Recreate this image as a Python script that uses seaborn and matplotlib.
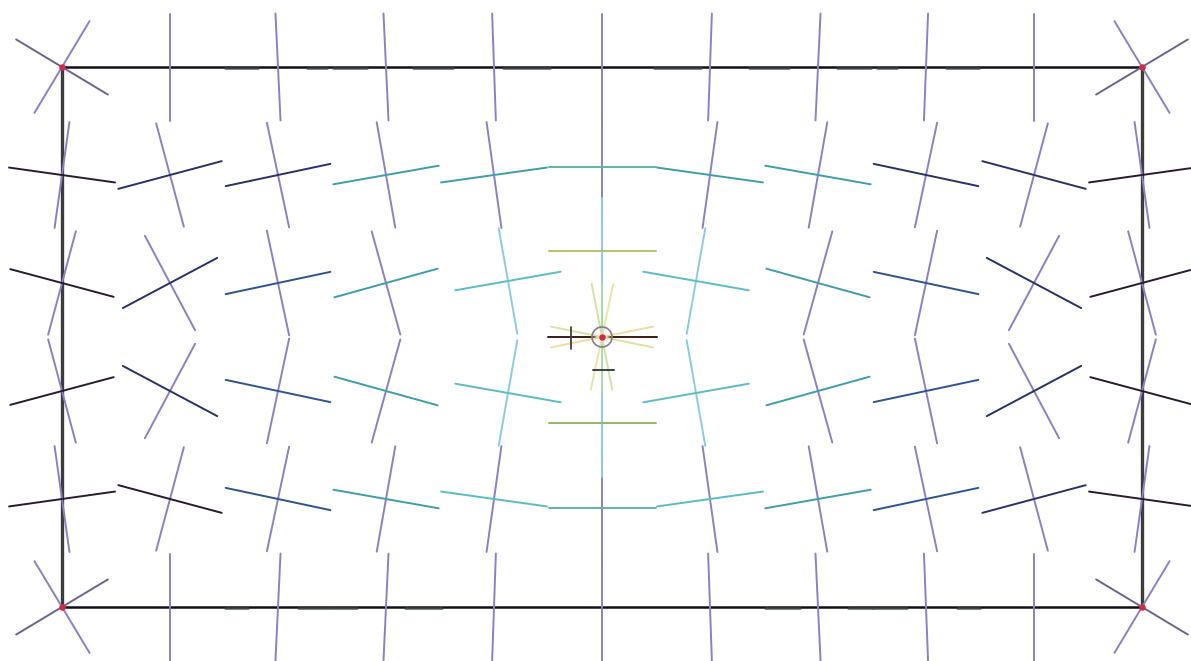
import numpy as np
import pandas as pd
import matplotlib
matplotlib.use("Agg")
import matplotlib.pyplot as plt
import seaborn as sns

# ---------------- data ----------------
col_x = [62, 170, 278, 386, 494, 602, 710, 818, 926, 1034, 1142]
row_y = [67, 175, 283, 391, 499, 607]

node_x = [
    [62, 170, 278, 386, 494, 602, 710, 818, 926, 1034, 1142],
    [62, 170, 278, 386, 494, 602, 710, 818, 926, 1034, 1142],
    [62, 170, 278, 386, 508, 602, 696, 818, 926, 1034, 1142],
    [62, 170, 278, 386, 508, 602, 696, 818, 926, 1034, 1142],
    [62, 170, 278, 386, 494, 602, 710, 818, 926, 1034, 1142],
    [62, 170, 278, 386, 494, 602, 710, 818, 926, 1034, 1142],
]
node_y = [
    [67, 67, 67, 67, 67, 67, 67, 67, 67, 67, 67],
    [175, 175, 175, 175, 175, 167, 175, 175, 175, 175, 175],
    [283, 283, 283, 283, 281, 251, 281, 283, 283, 283, 283],
    [391, 391, 391, 391, 393, 423, 393, 391, 391, 391, 391],
    [499, 499, 499, 499, 499, 508, 499, 499, 499, 499, 499],
    [607, 607, 607, 607, 607, 607, 607, 607, 607, 607, 607],
]
# angle (deg) of the near-horizontal principal direction
angle = [
    [-31, 0, 2.7, 2.7, 2, 0, -2, -2.7, -2.2, 0, 31],
    [-8, 15, 12, 10, 8, 0, -8, -10, -12, -15, 8],
    [-15, 28, 12, 15.5, 10, 0, -10, -15.5, -12, -28, 15],
    [15, -28, -12, -15.5, -10, 0, 10, 15.5, 12, 28, -15],
    [8, -15, -12, -10, -8, 0, 8, 10, 12, 15, -8],
    [31, 0, -2.7, -2.7, -2, 0, 2, 2.7, 2.2, 0, -31],
]
# colour codes: near-horizontal direction ('' = not drawn)
h_code = [
    ['m', '', '', '', '', '', '', '', '', '', 'm'],
    ['k', 'n', 'n', 't', 't', 'g', 't', 't', 'n', 'n', 'k'],
    ['k', 'n', 'b', 't', 'c', 'y', 'c', 't', 'b', 'n', 'k'],
    ['k', 'n', 'b', 't', 'c', 'q', 'c', 't', 'b', 'n', 'k'],
    ['k', 'k', 'b', 't', 'c', 'g', 'c', 't', 'b', 'n', 'k'],
    ['m', '', '', '', '', '', '', '', '', '', 'm'],
]
# colour codes: near-vertical direction
v_code = [
    ['p'] * 11,
    ['p'] * 11,
    ['p', 'p', 'p', 'p', 'l', 'l', 'l', 'p', 'p', 'p', 'p'],
    ['p', 'p', 'p', 'p', 'l', 'l', 'l', 'p', 'p', 'p', 'p'],
    ['p'] * 11,
    ['p'] * 11,
]
palette_codes = {
    'p': '#8b80c4', 'l': '#8ccae4', 'k': '#2b1a32', 'n': '#28326a',
    'b': '#2f5494', 't': '#3f9eac', 'c': '#5bbcc6', 'g': '#5fb6a2',
    'y': '#b2c46a', 'q': '#92b868', 'm': '#6e6290',
}
seg_len = 107.0

# singular point at centre
centre = (602, 337)
centre_ray_angles = [0, 90, 11.5, -11.5, 78, -79]
centre_ray_colors = ['#3a1c18', '#a8dca8', '#f0dca0', '#d8e4a0', '#e8e6a6', '#cfe3a2']
centre_ray_len = [109, 107, 104, 104, 108, 108]

# small dark marks
tick_x = [571, 571]
tick_y = [327, 349]
dash_x = [593, 614]
dash_y = [370, 370]

# dashes lying along top / bottom boundaries
top_dash = [(225, 258), (307, 327), (333, 367), (413, 453), (503, 550),
            (654, 701), (749, 789), (837, 871), (877, 897), (946, 979)]
bot_dash = [(225, 248), (298, 332), (333, 357), (405, 442),
            (765, 800), (848, 873), (873, 907), (957, 980)]

# ---------------- build segments ----------------
rows = []
sid = 0
def add_seg(cx, cy, theta_deg, length, color):
    global sid
    t = np.deg2rad(theta_deg)
    dx, dy = np.cos(t) * length / 2, -np.sin(t) * length / 2
    rows.append(dict(seg=sid, x=cx - dx, y=cy - dy, color=color))
    rows.append(dict(seg=sid, x=cx + dx, y=cy + dy, color=color))
    sid += 1

for r in range(len(node_x)):
    for c in range(len(node_x[r])):
        cx, cy, th = node_x[r][c], node_y[r][c], angle[r][c]
        add_seg(cx, cy, th + 90, seg_len, palette_codes[v_code[r][c]])
for r in range(len(node_x)):
    for c in range(len(node_x[r])):
        code = h_code[r][c]
        if code:
            add_seg(node_x[r][c], node_y[r][c], angle[r][c], seg_len, palette_codes[code])
for th, colr, ln in zip(centre_ray_angles, centre_ray_colors, centre_ray_len):
    add_seg(centre[0], centre[1], th, ln, colr)

df = pd.DataFrame(rows)

# ---------------- plot ----------------
sns.set_theme(style="white")
fig = plt.figure(figsize=(11.91, 6.61), dpi=100)
ax = fig.add_axes([0, 0, 1, 1])

# boundary
x0, x1, y0, y1 = col_x[0], col_x[-1], row_y[0], row_y[-1]
ax.plot([x0, x0], [y0, y1], color='#3c3c3c', lw=2.4, zorder=1, solid_capstyle='butt')
ax.plot([x1, x1], [y0, y1], color='#3c3c3c', lw=2.4, zorder=1, solid_capstyle='butt')
ax.plot([x0, x1], [y0, y0], color='#101018', lw=1.8, zorder=1)
ax.plot([x0, x1], [y1, y1], color='#101018', lw=1.8, zorder=1)
for a, b in top_dash:
    ax.plot([a, b], [y0 + 1.2, y0 + 1.2], color='#3a4444', lw=1.8, alpha=0.85, zorder=1)
for a, b in bot_dash:
    ax.plot([a, b], [y1 + 1.2, y1 + 1.2], color='#3a4444', lw=1.8, alpha=0.85, zorder=1)

color_map = {c: c for c in df['color'].unique()}
sns.lineplot(data=df, x='x', y='y', units='seg', hue='color', palette=color_map,
             estimator=None, sort=False, legend=False, lw=1.4, ax=ax, zorder=2)

ax.plot(tick_x, tick_y, color='#404040', lw=1.3, zorder=3)
ax.plot(dash_x, dash_y, color='#303030', lw=1.3, zorder=3)
ax.add_patch(plt.Circle(centre, 10, fill=False, ec='#8a7898', lw=1.2, zorder=3))

# singular points
sx = [x0, x1, x0, x1, centre[0]]
sy = [y0, y0, y1, y1, centre[1]]
ax.scatter(sx, sy, s=22, color='#d42848', zorder=4, linewidths=0)

ax.set_xlim(0, 1191)
ax.set_ylim(661, 0)
ax.axis('off')
fig.savefig('out.png', dpi=100, facecolor='white')
